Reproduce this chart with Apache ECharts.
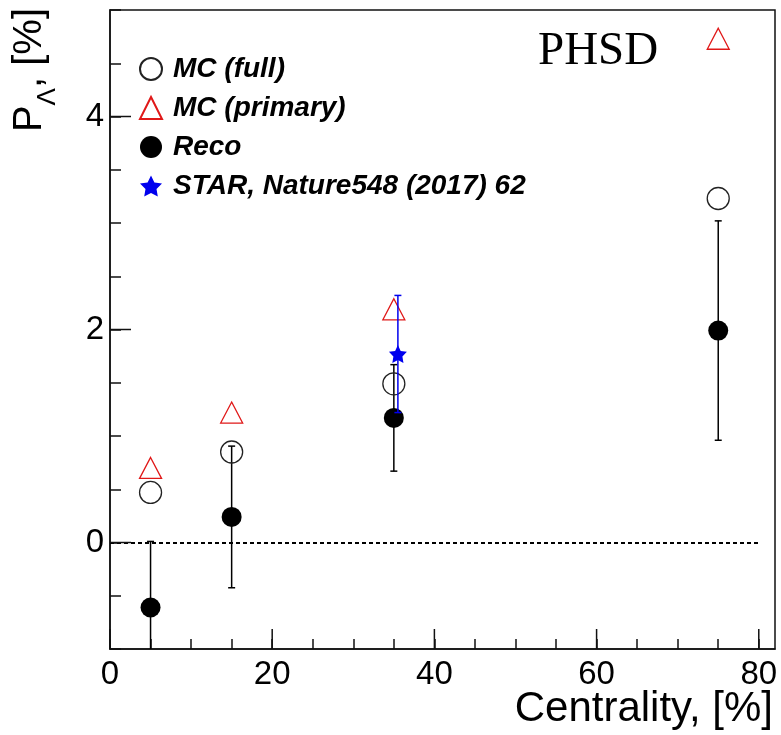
<!DOCTYPE html>
<html>
<head>
<meta charset="utf-8">
<script src="https://cdn.jsdelivr.net/npm/echarts@6/dist/echarts.min.js"></script>
<style>html,body{margin:0;padding:0;background:#fff;}#c{width:781px;height:735px;}</style>
</head>
<body>
<div id="c"></div>
<script>
// ---- data ----
const centrality = [5, 15, 35, 75];
const mcFull = [0.47, 0.85, 1.49, 3.23];
const mcPrimary = [0.70, 1.22, 2.19, 4.73];
const reco = [-0.61, 0.24, 1.17, 1.99];
const recoErr = [0.62, 0.665, 0.50, 1.03];
const starX = [35.5];
const starY = [1.77];
const starErr = [0.55];
const xMajorTicks = [0, 20, 40, 60, 80];
const yMajorTicks = [0, 2, 4];
const xRange = [0, 82];
const yRange = [-1, 5];
const zeroLine = [0, 80];

const legendNames = ['MC (full)', 'MC (primary)', 'Reco', 'STAR, Nature548 (2017) 62'];
const starPath = 'path://M0,-10 L2.94,-4.05 9.51,-3.09 4.76,1.55 5.88,8.09 0,5 -5.88,8.09 -4.76,1.55 -9.51,-3.09 -2.94,-4.05Z';

function pairs(xs, ys) { return xs.map((x, i) => [x, ys[i]]); }
function triples(xs, ys, es) { return xs.map((x, i) => [x, ys[i], es[i]]); }

function errRender(color) {
  return function (params, api) {
    const x = api.value(0), y = api.value(1), e = api.value(2);
    const t = api.coord([x, y + e]);
    const b = api.coord([x, y - e]);
    const cw = 3.5;
    const st = { stroke: color, lineWidth: 1.5 };
    return {
      type: 'group', children: [
        { type: 'line', shape: { x1: t[0], y1: t[1], x2: b[0], y2: b[1] }, style: st },
        { type: 'line', shape: { x1: t[0] - cw, y1: t[1], x2: t[0] + cw, y2: t[1] }, style: st },
        { type: 'line', shape: { x1: b[0] - cw, y1: b[1], x2: b[0] + cw, y2: b[1] }, style: st }
      ]
    };
  };
}

const chart = echarts.init(document.getElementById('c'), null, { renderer: 'canvas' });
const font = 'Liberation Sans';

chart.setOption({
  animation: false,
  backgroundColor: '#fff',
  grid: { left: 110, top: 10, right: 6, bottom: 86, containLabel: false, outerBoundsMode: 'none',
    show: true, borderColor: '#111', borderWidth: 1.5, backgroundColor: 'rgba(0,0,0,0)' },
  xAxis: {
    type: 'value', min: xRange[0], max: xRange[1], interval: 5,
    name: 'Centrality, [%]', nameLocation: 'end', nameGap: 0, nameMoveOverlap: false,
    nameTextStyle: { fontFamily: font, fontSize: 42, color: '#000', align: 'right', verticalAlign: 'top', padding: [39, 2, 0, 0] },
    axisLine: { show: true, onZero: false, lineStyle: { color: '#111', width: 1.5 } },
    axisTick: { show: true, inside: true, length: 10, lineStyle: { color: '#111', width: 1.5 } },
    splitLine: { show: false },
    axisLabel: { margin: 9, fontFamily: font, fontSize: 33, color: '#000', showMaxLabel: false,
      formatter: v => (Math.abs(v % 20) < 1e-9 && v <= 80) ? String(v) : '' }
  },
  yAxis: {
    type: 'value', min: yRange[0], max: yRange[1], interval: 0.5,
    name: '{p|P}{s|Λ}{p|, [%]}', nameLocation: 'end', nameGap: 2, nameRotate: 90, nameMoveOverlap: false,
    nameTextStyle: { align: 'right', verticalAlign: 'bottom', padding: [0, 0, 49, 0],
      rich: {
        p: { fontFamily: font, fontSize: 40, color: '#000', verticalAlign: 'bottom', padding: [0, 0, 11, 0] },
        s: { fontFamily: font, fontSize: 26, color: '#000', verticalAlign: 'bottom' }
      } },
    axisLine: { show: true, onZero: false, lineStyle: { color: '#111', width: 1.5 } },
    axisTick: { show: true, inside: true, length: 11, lineStyle: { color: '#111', width: 1.5 } },
    splitLine: { show: false },
    axisLabel: { margin: 6, fontFamily: font, fontSize: 33, color: '#000',
      formatter: v => (Math.abs(v % 2) < 1e-9) ? String(v) : '' }
  },
  legend: {
    data: legendNames, orient: 'vertical', left: 139, top: 55, padding: 0,
    itemWidth: 22, itemHeight: 22, itemGap: 11,
    textStyle: { fontFamily: font, fontWeight: 'bold', fontStyle: 'italic', fontSize: 28, color: '#000', padding: [0, 0, 0, 6] }
  },
  graphic: [
    { type: 'text', left: 538, top: 28, style: { text: 'PHSD', font: '47px "Liberation Serif"', fill: '#000' } }
  ],
  series: [
    { type: 'custom', name: 'tickMajorX', silent: true, z: 5, renderItem: function (params, api) {
        const p = api.coord([api.value(0), yRange[0]]);
        return { type: 'line', shape: { x1: p[0], y1: p[1], x2: p[0], y2: p[1] - 20 }, style: { stroke: '#111', lineWidth: 1.5 } };
      }, data: xMajorTicks.map(v => [v]), encode: { x: 0 } },
    { type: 'custom', name: 'tickMajorY', silent: true, z: 5, renderItem: function (params, api) {
        const p = api.coord([xRange[0], api.value(0)]);
        return { type: 'line', shape: { x1: p[0], y1: p[1], x2: p[0] + 21, y2: p[1] }, style: { stroke: '#111', lineWidth: 1.5 } };
      }, data: yMajorTicks.map(v => [v]), encode: { y: 0 } },
    { type: 'custom', name: 'recoErr', silent: true, clip: true, z: 3, renderItem: errRender('#000'),
      data: triples(centrality, reco, recoErr), encode: { x: 0, y: 1 } },
    { type: 'custom', name: 'starErr', silent: true, clip: true, z: 6, renderItem: errRender('#0000ee'),
      data: triples(starX, starY, starErr), encode: { x: 0, y: 1 } },
    { type: 'scatter', name: 'MC (full)', symbol: 'circle', symbolSize: 22, z: 4,
      itemStyle: { color: 'rgba(0,0,0,0)', borderColor: '#222', borderWidth: 1.3, opacity: 1 },
      data: pairs(centrality, mcFull),
      markLine: { silent: true, symbol: 'none', label: { show: false },
        lineStyle: { color: '#000', width: 2, type: [4, 3] },
        data: [[{ coord: [zeroLine[0], 0] }, { coord: [zeroLine[1], 0] }]] } },
    { type: 'scatter', name: 'MC (primary)', symbol: 'triangle', symbolSize: [22, 21], z: 4,
      itemStyle: { color: 'rgba(0,0,0,0)', borderColor: '#e01818', borderWidth: 1.3, opacity: 1 },
      data: pairs(centrality, mcPrimary) },
    { type: 'scatter', name: 'Reco', symbol: 'circle', symbolSize: 20, z: 4,
      itemStyle: { color: '#000', opacity: 1 }, data: pairs(centrality, reco) },
    { type: 'scatter', name: 'STAR, Nature548 (2017) 62', symbol: starPath, symbolSize: 18, z: 7,
      itemStyle: { color: '#0000ee', opacity: 1 }, data: pairs(starX, starY) }
  ]
});
</script>
</body>
</html>
